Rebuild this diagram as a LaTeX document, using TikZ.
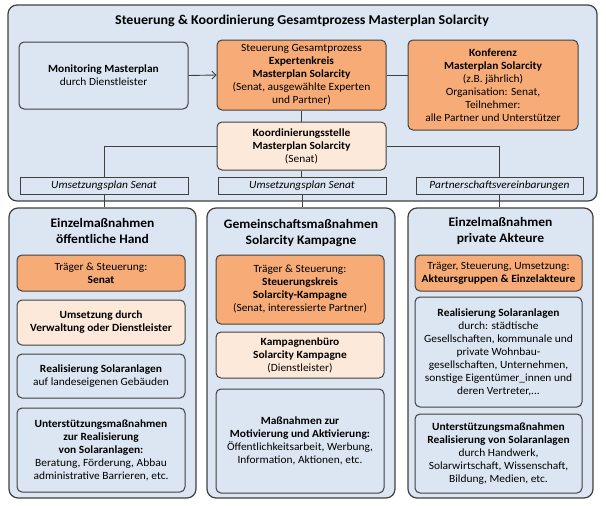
\documentclass[tikz,border=0pt]{standalone}
\usepackage{fontspec}
\setmainfont{Carlito}[FakeStretch=1.04]
\usetikzlibrary{arrows.meta}

\definecolor{rahmen}{HTML}{404040}
\definecolor{hellblau}{HTML}{DCE6F2}
\definecolor{traeger}{HTML}{F7AC78}
\definecolor{pfirsich}{HTML}{FDE9D9}

\newcommand{\bodytxt}{\fontsize{11}{13}\selectfont}
\newcommand{\headtxt}{\fontsize{13}{16.5}\selectfont\bfseries}

\tikzset{
  frame/.style={draw=rahmen, line width=1.2pt, fill=hellblau, rounded corners=9pt},
  box/.style={draw=rahmen, line width=1pt, rounded corners=5pt, align=center, font=\bodytxt, inner sep=2pt},
  blaubox/.style={box, fill=hellblau},
  orangebox/.style={box, fill=traeger},
  hellbox/.style={box, fill=pfirsich},
  band/.style={draw=rahmen, line width=0.8pt, fill=hellblau, font=\bodytxt\itshape, inner sep=1pt, minimum height=17},
  verb/.style={draw=rahmen, line width=0.9pt},
}

\begin{document}
\begin{tikzpicture}[x=1pt,y=-1pt,>={Straight Barb[length=4pt,width=8pt]}]
	\useasboundingbox (0,0) rectangle (606,506);
	
	% Gesamtprozess
	\node[frame, minimum width=589, minimum height=196] (oben) at (302.5,103) {};
	\node[font=\fontsize{13.5}{16}\selectfont\bfseries] (titel) at (302,21)
		{Steuerung \& Koordinierung Gesamtprozess Masterplan Solarcity};
	
	\node[blaubox, minimum width=169, minimum height=67] (monitor) at (103.5,75.5)
		{\textbf{Monitoring Masterplan}\\durch Dienstleister};
	\node[orangebox, minimum width=169, minimum height=70] (steuer) at (301.5,75)
		{Steuerung Gesamtprozess\\\textbf{Expertenkreis}\\\textbf{Masterplan Solarcity}\\(Senat, ausgewählte Experten\\und Partner)};
	\node[orangebox, minimum width=170, minimum height=90] (konf) at (493,85)
		{\textbf{Konferenz}\\\textbf{Masterplan Solarcity}\\(z.B. jährlich)\\Organisation: Senat,\\Teilnehmer:\\alle Partner und Unterstützer};
	\node[hellbox, minimum width=169, minimum height=48] (koord) at (301.5,146)
		{\textbf{Koordinierungsstelle}\\\textbf{Masterplan Solarcity}\\(Senat)};
	
	\draw[verb,->] (monitor.east) -- (steuer.west);
	\draw[verb] (steuer.east) -- (steuer.east -| konf.west);
	\draw[verb] (steuer.south) -- (koord.north);
	
	% Vereinbarungen
	\node[band, minimum width=168] (bandL) at (104,185.5) {Umsetzungsplan Senat};
	\node[band, minimum width=168] (bandM) at (302,185.5) {Umsetzungsplan Senat};
	\node[band, minimum width=167] (bandR) at (499.5,185.5) {Partnerschaftsvereinbarungen};
	
	\draw[verb] (koord.west) -| (bandL.north);
	\draw[verb] (koord.east) -| (bandR.north);
	\draw[verb] (koord.south) -- (koord.south |- bandM.north);
	
	% Spalten
	\node[frame, minimum width=187, minimum height=290] (spalteL) at (102.5,353) {};
	\node[frame, minimum width=188, minimum height=290] (spalteM) at (301,353) {};
	\node[frame, minimum width=185, minimum height=290] (spalteR) at (500.5,353) {};
	
	\draw[verb] (bandL.south) -- (bandL.south |- spalteL.north);
	\draw[verb] (bandM.south) -- (bandM.south |- spalteM.north);
	\draw[verb] (bandR.south) -- (bandR.south |- spalteR.north);
	
	\node[font=\headtxt, align=center] (kopfL) at (102.5,231) {Einzelmaßnahmen\\öffentliche Hand};
	\node[font=\headtxt, align=center] (kopfM) at (301,233) {Gemeinschaftsmaßnahmen\\Solarcity Kampagne};
	\node[font=\headtxt, align=center] (kopfR) at (500.5,231) {Einzelmaßnahmen\\private Akteure};
	
	% öffentliche Hand
	\node[orangebox, minimum width=168, minimum height=36] (L1) at (101,273)
		{Träger \& Steuerung:\\\textbf{Senat}};
	\node[hellbox, minimum width=168, minimum height=45] (L2) at (101,322.5)
		{\textbf{Umsetzung durch}\\\textbf{Verwaltung oder Dienstleister}};
	\node[blaubox, minimum width=168, minimum height=44] (L3) at (101,376)
		{\textbf{Realisierung Solaranlagen}\\auf landeseigenen Gebäuden};
	\node[blaubox, minimum width=168, minimum height=84] (L4) at (101,450)
		{\textbf{Unterstützungsmaßnahmen}\\\textbf{zur Realisierung}\\\textbf{von Solaranlagen:}\\Beratung, Förderung, Abbau\\administrative Barrieren, etc.};
	
	% Kampagne
	\node[orangebox, minimum width=168, minimum height=69] (M1) at (300,289.5)
		{Träger \& Steuerung:\\\textbf{Steuerungskreis}\\\textbf{Solarcity-Kampagne}\\(Senat, interessierte Partner)};
	\node[hellbox, minimum width=168, minimum height=46] (M2) at (300,355)
		{\textbf{Kampagnenbüro}\\\textbf{Solarcity Kampagne}\\(Dienstleister)};
	\node[blaubox, minimum width=168, minimum height=104] (M3) at (300,441)
		{\textbf{Maßnahmen zur}\\\textbf{Motivierung und Aktivierung:}\\Öffentlichkeitsarbeit, Werbung,\\Information, Aktionen, etc.};
	
	% private Akteure
	\node[orangebox, minimum width=167, minimum height=36] (R1) at (498.5,273)
		{Träger, Steuerung, Umsetzung:\\\textbf{Akteursgruppen \& Einzelakteure}};
	\node[blaubox, minimum width=167, minimum height=110] (R2) at (498.5,352)
		{\textbf{Realisierung Solaranlagen}\\durch: städtische\\Gesellschaften, kommunale und\\private Wohnbau-\\gesellschaften, Unternehmen,\\sonstige Eigentümer\_innen und\\deren Vertreter,...};
	\node[blaubox, minimum width=167, minimum height=79] (R3) at (498.5,453.5)
		{\textbf{Unterstützungsmaßnahmen}\\\textbf{Realisierung von Solaranlagen}\\durch Handwerk,\\Solarwirtschaft, Wissenschaft,\\Bildung, Medien, etc.};
	
\end{tikzpicture}
\end{document}
